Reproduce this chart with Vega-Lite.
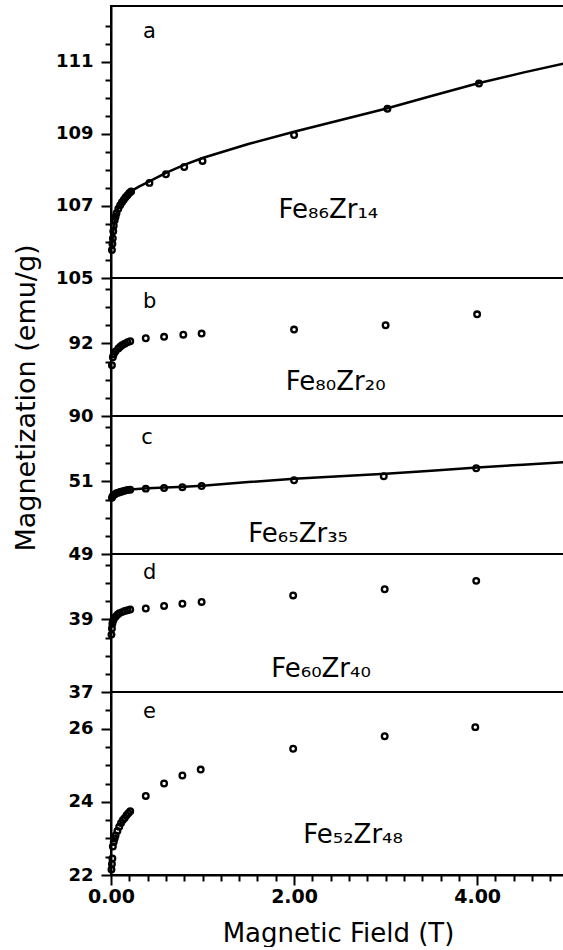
{
 "$schema": "https://vega.github.io/schema/vega-lite/v6.json",
 "padding": {"left": 10, "top": 5, "right": 0, "bottom": 0},
 "spacing": 0,
 "bounds": "flush",
 "config": {
  "view": {"stroke": "black", "strokeWidth": 2},
  "font": "DejaVu Sans",
  "text": {"font": "DejaVu Sans", "color": "black"},
  "point": {"opacity": 1},
  "axis": {"domainColor": "black", "domainWidth": 2, "tickColor": "black", "tickWidth": 2, "grid": false, "labelFont": "DejaVu Sans", "labelFontWeight": "bold", "labelColor": "black", "titleColor": "black", "titleFont": "DejaVu Sans", "labelOverlap": false}
 },
 "vconcat": [
  {
   "width": 454, "height": 272,
   "encoding": {
    "x": {"field": "x", "type": "quantitative", "scale": {"domain": [0, 4.96], "nice": false}, "axis": null},
    "y": {"field": "y", "type": "quantitative", "scale": {"domain": [105, 112.55], "nice": false, "zero": false},
     "axis": {"values": [105,105.5,106,106.5,107,107.5,108,108.5,109,109.5,110,110.5,111,111.5,112], "labelExpr": "datum.value % 2 == 1 ? format(datum.value, 'd') : ''", "tickSize": {"condition": {"test": "datum.value % 2 == 1", "value": 10}, "value": 6}, "labelFontSize": 18, "labelPadding": 8, "title": null}}
   },
   "layer": [
    {"data": {"values": [
     {"x":0.01,"y":105.8},{"x":0.02,"y":106.15},{"x":0.03,"y":106.45},{"x":0.05,"y":106.72},{"x":0.08,"y":106.95},{"x":0.12,"y":107.13},{"x":0.2,"y":107.38},{"x":0.3,"y":107.53},{"x":0.42,"y":107.68},{"x":0.6,"y":107.92},{"x":0.8,"y":108.14},{"x":1.0,"y":108.33},{"x":1.5,"y":108.72},{"x":2.0,"y":109.06},{"x":2.5,"y":109.38},{"x":3.0,"y":109.7},{"x":3.5,"y":110.05},{"x":4.0,"y":110.4},{"x":4.5,"y":110.7},{"x":4.96,"y":110.96}]},
     "mark": {"type": "line", "color": "black", "strokeWidth": 2.5}},
    {"data": {"values": [
     {"x":0.01,"y":105.78},{"x":0.015,"y":105.95},{"x":0.02,"y":106.1},{"x":0.025,"y":106.3},{"x":0.03,"y":106.45},{"x":0.04,"y":106.6},{"x":0.05,"y":106.7},{"x":0.06,"y":106.8},{"x":0.08,"y":106.92},{"x":0.1,"y":107.02},{"x":0.12,"y":107.1},{"x":0.14,"y":107.17},{"x":0.16,"y":107.24},{"x":0.18,"y":107.3},{"x":0.2,"y":107.36},{"x":0.22,"y":107.4},{"x":0.42,"y":107.64},{"x":0.6,"y":107.88},{"x":0.8,"y":108.08},{"x":1.0,"y":108.25},{"x":2.0,"y":108.97},{"x":3.02,"y":109.7},{"x":4.02,"y":110.4}]},
     "mark": {"type": "point", "shape": "circle", "filled": false, "color": "black", "size": 32, "strokeWidth": 2.3}},
    {"data": {"values": [{"x": 0.35, "y": 111.66, "t": "a"}, {"x": 1.83, "y": 106.66, "t": "Fe₈₆Zr₁₄"}]},
     "mark": {"type": "text", "align": "left", "baseline": "alphabetic"},
     "encoding": {"text": {"field": "t"}, "size": {"condition": {"test": "length(datum.t) == 1", "value": 21}, "value": 26}}}
   ]
  },
  {
   "width": 454, "height": 138,
   "encoding": {
    "x": {"field": "x", "type": "quantitative", "scale": {"domain": [0, 4.96], "nice": false}, "axis": null},
    "y": {"field": "y", "type": "quantitative", "scale": {"domain": [90, 93.8], "nice": false, "zero": false},
     "axis": {"values": [90,90.5,91,91.5,92,92.5,93,93.5], "labelExpr": "datum.value % 2 == 0 ? format(datum.value, 'd') : ''", "tickSize": {"condition": {"test": "datum.value % 2 == 0", "value": 10}, "value": 6}, "labelFontSize": 18, "labelPadding": 8, "title": "Magnetization (emu/g)", "titleFontSize": 27, "titleFontWeight": "normal", "titleX": -71, "titleY": 119.5}}
   },
   "layer": [
    {"data": {"values": [
     {"x":0.01,"y":91.4},{"x":0.02,"y":91.62},{"x":0.03,"y":91.7},{"x":0.05,"y":91.78},{"x":0.08,"y":91.86},{"x":0.1,"y":91.91},{"x":0.12,"y":91.95},{"x":0.15,"y":91.99},{"x":0.18,"y":92.03},{"x":0.21,"y":92.06},{"x":0.38,"y":92.14},{"x":0.58,"y":92.18},{"x":0.79,"y":92.24},{"x":0.99,"y":92.27},{"x":2.0,"y":92.38},{"x":3.0,"y":92.5},{"x":4.0,"y":92.8}]},
     "mark": {"type": "point", "shape": "circle", "filled": false, "color": "black", "size": 32, "strokeWidth": 2.3}},
    {"data": {"values": [{"x": 0.35, "y": 92.98, "t": "b"}, {"x": 1.91, "y": 90.72, "t": "Fe₈₀Zr₂₀"}]},
     "mark": {"type": "text", "align": "left", "baseline": "alphabetic"},
     "encoding": {"text": {"field": "t"}, "size": {"condition": {"test": "length(datum.t) == 1", "value": 21}, "value": 26}}}
   ]
  },
  {
   "width": 454, "height": 138,
   "encoding": {
    "x": {"field": "x", "type": "quantitative", "scale": {"domain": [0, 4.96], "nice": false}, "axis": null},
    "y": {"field": "y", "type": "quantitative", "scale": {"domain": [49, 52.8], "nice": false, "zero": false},
     "axis": {"values": [49,49.5,50,50.5,51,51.5,52,52.5], "labelExpr": "datum.value % 2 == 1 ? format(datum.value, 'd') : ''", "tickSize": {"condition": {"test": "datum.value % 2 == 1", "value": 10}, "value": 6}, "labelFontSize": 18, "labelPadding": 8, "title": null}}
   },
   "layer": [
    {"data": {"values": [
     {"x":0.0,"y":50.52},{"x":0.03,"y":50.62},{"x":0.07,"y":50.68},{"x":0.15,"y":50.74},{"x":0.25,"y":50.78},{"x":0.4,"y":50.81},{"x":0.6,"y":50.83},{"x":0.8,"y":50.85},{"x":1.0,"y":50.88},{"x":1.5,"y":50.98},{"x":2.0,"y":51.07},{"x":2.5,"y":51.14},{"x":3.0,"y":51.21},{"x":3.5,"y":51.29},{"x":4.0,"y":51.38},{"x":4.5,"y":51.46},{"x":4.96,"y":51.53}]},
     "mark": {"type": "line", "color": "black", "strokeWidth": 2.5}},
    {"data": {"values": [
     {"x":0.01,"y":50.55},{"x":0.02,"y":50.6},{"x":0.04,"y":50.64},{"x":0.06,"y":50.67},{"x":0.08,"y":50.69},{"x":0.1,"y":50.71},{"x":0.12,"y":50.72},{"x":0.15,"y":50.74},{"x":0.18,"y":50.76},{"x":0.21,"y":50.77},{"x":0.38,"y":50.8},{"x":0.58,"y":50.82},{"x":0.78,"y":50.84},{"x":0.99,"y":50.87},{"x":2.0,"y":51.03},{"x":2.98,"y":51.14},{"x":3.99,"y":51.36}]},
     "mark": {"type": "point", "shape": "circle", "filled": false, "color": "black", "size": 32, "strokeWidth": 2.3}},
    {"data": {"values": [{"x": 0.33, "y": 52.04, "t": "c"}, {"x": 1.5, "y": 49.34, "t": "Fe₆₅Zr₃₅"}]},
     "mark": {"type": "text", "align": "left", "baseline": "alphabetic"},
     "encoding": {"text": {"field": "t"}, "size": {"condition": {"test": "length(datum.t) == 1", "value": 21}, "value": 26}}}
   ]
  },
  {
   "width": 454, "height": 138,
   "encoding": {
    "x": {"field": "x", "type": "quantitative", "scale": {"domain": [0, 4.96], "nice": false}, "axis": null},
    "y": {"field": "y", "type": "quantitative", "scale": {"domain": [37, 40.8], "nice": false, "zero": false},
     "axis": {"values": [37,37.5,38,38.5,39,39.5,40,40.5], "labelExpr": "datum.value % 2 == 1 ? format(datum.value, 'd') : ''", "tickSize": {"condition": {"test": "datum.value % 2 == 1", "value": 10}, "value": 6}, "labelFontSize": 18, "labelPadding": 8, "title": null}}
   },
   "layer": [
    {"data": {"values": [
     {"x":0.005,"y":38.58},{"x":0.01,"y":38.75},{"x":0.015,"y":38.88},{"x":0.02,"y":38.95},{"x":0.03,"y":39.0},{"x":0.05,"y":39.07},{"x":0.07,"y":39.13},{"x":0.09,"y":39.17},{"x":0.12,"y":39.2},{"x":0.15,"y":39.23},{"x":0.18,"y":39.25},{"x":0.21,"y":39.27},{"x":0.38,"y":39.3},{"x":0.58,"y":39.37},{"x":0.78,"y":39.43},{"x":0.99,"y":39.48},{"x":1.99,"y":39.66},{"x":2.99,"y":39.83},{"x":3.99,"y":40.06}]},
     "mark": {"type": "point", "shape": "circle", "filled": false, "color": "black", "size": 32, "strokeWidth": 2.3}},
    {"data": {"values": [{"x": 0.35, "y": 40.11, "t": "d"}, {"x": 1.75, "y": 37.4, "t": "Fe₆₀Zr₄₀"}]},
     "mark": {"type": "text", "align": "left", "baseline": "alphabetic"},
     "encoding": {"text": {"field": "t"}, "size": {"condition": {"test": "length(datum.t) == 1", "value": 21}, "value": 26}}}
   ]
  },
  {
   "width": 454, "height": 183,
   "encoding": {
    "x": {"field": "x", "type": "quantitative", "scale": {"domain": [0, 4.96], "nice": false},
     "axis": {"values": [0,0.2,0.4,0.6,0.8,1,1.2,1.4,1.6,1.8,2,2.2,2.4,2.6,2.8,3,3.2,3.4,3.6,3.8,4,4.2,4.4,4.6,4.8], "labelExpr": "datum.value % 2 == 0 ? format(datum.value, '.2f') : ''", "tickSize": {"condition": {"test": "datum.value % 2 == 0", "value": 10}, "value": 6}, "labelFontSize": 19, "labelPadding": 2, "labelFlush": false, "title": "Magnetic Field (T)", "titleFontSize": 26, "titleFontWeight": "normal", "titlePadding": 14}},
    "y": {"field": "y", "type": "quantitative", "scale": {"domain": [22, 27], "nice": false, "zero": false},
     "axis": {"values": [22,22.5,23,23.5,24,24.5,25,25.5,26,26.5], "labelExpr": "datum.value % 2 == 0 ? format(datum.value, 'd') : ''", "tickSize": {"condition": {"test": "datum.value % 2 == 0", "value": 10}, "value": 6}, "labelFontSize": 18, "labelPadding": 8, "title": null}}
   },
   "layer": [
    {"data": {"values": [
     {"x":0.005,"y":22.15},{"x":0.01,"y":22.3},{"x":0.015,"y":22.45},{"x":0.02,"y":22.78},{"x":0.03,"y":22.9},{"x":0.04,"y":23.0},{"x":0.05,"y":23.08},{"x":0.07,"y":23.2},{"x":0.09,"y":23.32},{"x":0.11,"y":23.42},{"x":0.13,"y":23.5},{"x":0.15,"y":23.56},{"x":0.17,"y":23.63},{"x":0.19,"y":23.69},{"x":0.21,"y":23.74},{"x":0.38,"y":24.16},{"x":0.58,"y":24.5},{"x":0.78,"y":24.72},{"x":0.98,"y":24.88},{"x":1.99,"y":25.45},{"x":2.99,"y":25.79},{"x":3.98,"y":26.04}]},
     "mark": {"type": "point", "shape": "circle", "filled": false, "color": "black", "size": 32, "strokeWidth": 2.3}},
    {"data": {"values": [{"x": 0.35, "y": 26.3, "t": "e"}, {"x": 2.1, "y": 22.88, "t": "Fe₅₂Zr₄₈"}]},
     "mark": {"type": "text", "align": "left", "baseline": "alphabetic"},
     "encoding": {"text": {"field": "t"}, "size": {"condition": {"test": "length(datum.t) == 1", "value": 21}, "value": 26}}}
   ]
  }
 ]
}
